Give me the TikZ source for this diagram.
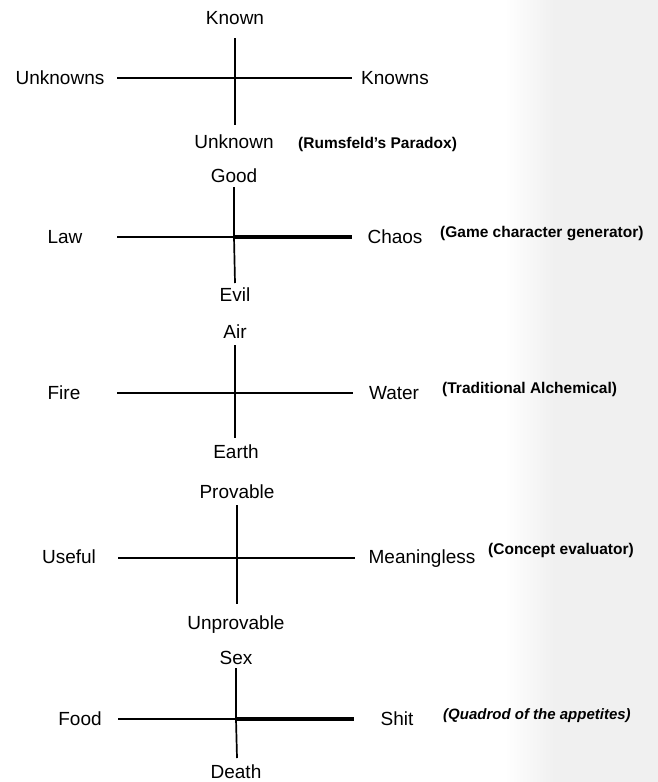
\documentclass[tikz,border=0pt]{standalone}
\usepackage{fontspec}
\setmainfont{Liberation Sans}
\begin{document}
\begin{tikzpicture}[x=1pt,y=-1pt,
  lab/.style={font=\fontsize{19}{21}\selectfont, inner sep=0pt, text height=13.5pt, text depth=0pt},
  note/.style={font=\bfseries\fontsize{15.5}{17}\selectfont, inner sep=0pt, text height=11pt, text depth=0pt, anchor=west},
  noteit/.style={font=\bfseries\itshape\fontsize{15}{17}\selectfont, inner sep=0pt, text height=11pt, text depth=0pt, anchor=west},
  axis/.style={line width=1.7pt, black},
  heavy/.style={line width=3.8pt, black}]
\useasboundingbox (0,0) rectangle (658,782);
\fill[white] (0,0) rectangle (658,782);
\shade[left color=white, right color=black!6] (505,0) rectangle (555,782);
\fill[black!6] (555,0) rectangle (658,782);

% ---------- Diagram 1 ----------
\node[lab] (k1t) at (235,18) {Known};
\node[lab] (k1b) at (234,142) {Unknown};
\node[lab] (k1l) at (60,78) {Unknowns};
\node[lab] (k1r) at (395,78) {Knowns};
\node[note] (n1) at (298,143) {(Rumsfeld's Paradox)};
\coordinate (c1) at (235,78);
\coordinate (v1t) at (235,38);
\coordinate (v1b) at (235,125);
\coordinate (h1l) at (117,78);
\coordinate (h1r) at (352,78);
\draw[axis] (v1t) -- (c1) -- (v1b);
\draw[axis] (h1l) -- (c1) -- (h1r);

% ---------- Diagram 2 ----------
\node[lab] (k2t) at (234,176) {Good};
\node[lab] (k2b) at (235,295) {Evil};
\node[lab] (k2l) at (65,237) {Law};
\node[lab] (k2r) at (395,237) {Chaos};
\node[note] (n2) at (440,232) {(Game character generator)};
\coordinate (c2) at (234,237);
\coordinate (v2t) at (234,187);
\coordinate (v2b) at (235,283);
\coordinate (h2l) at (117,237);
\coordinate (h2r) at (352,237);
\draw[axis] (v2t) -- (c2) -- (v2b);
\draw[axis] (h2l) -- (c2);
\draw[heavy] (c2) -- (h2r);

% ---------- Diagram 3 ----------
\node[lab] (k3t) at (235,332) {Air};
\node[lab] (k3b) at (236,452) {Earth};
\node[lab] (k3l) at (64,393) {Fire};
\node[lab] (k3r) at (394,393) {Water};
\node[note] (n3) at (442,388) {(Traditional Alchemical)};
\coordinate (c3) at (235,393);
\coordinate (v3t) at (235,345);
\coordinate (v3b) at (235,438);
\coordinate (h3l) at (117,393);
\coordinate (h3r) at (353,393);
\draw[axis] (v3t) -- (c3) -- (v3b);
\draw[axis] (h3l) -- (c3) -- (h3r);

% ---------- Diagram 4 ----------
\node[lab] (k4t) at (237,492) {Provable};
\node[lab] (k4b) at (236,623) {Unprovable};
\node[lab] (k4l) at (69,557) {Useful};
\node[lab] (k4r) at (422,557) {Meaningless};
\node[note] (n4) at (488,549) {(Concept evaluator)};
\coordinate (c4) at (237,558);
\coordinate (v4t) at (237,505);
\coordinate (v4b) at (237,604);
\coordinate (h4l) at (118,558);
\coordinate (h4r) at (355,558);
\draw[axis] (v4t) -- (c4) -- (v4b);
\draw[axis] (h4l) -- (c4) -- (h4r);

% ---------- Diagram 5 ----------
\node[lab] (k5t) at (236,658) {Sex};
\node[lab] (k5b) at (236,772) {Death};
\node[lab] (k5l) at (80,719) {Food};
\node[lab] (k5r) at (397,719) {Shit};
\node[noteit] (n5) at (443,714) {(Quadrod of the appetites)};
\coordinate (c5) at (236,719);
\coordinate (v5t) at (236,668);
\coordinate (v5b) at (237,758);
\coordinate (h5l) at (118,719);
\coordinate (h5r) at (354,719);
\draw[axis] (v5t) -- (c5) -- (v5b);
\draw[axis] (h5l) -- (c5);
\draw[heavy] (c5) -- (h5r);
\end{tikzpicture}
\end{document}
